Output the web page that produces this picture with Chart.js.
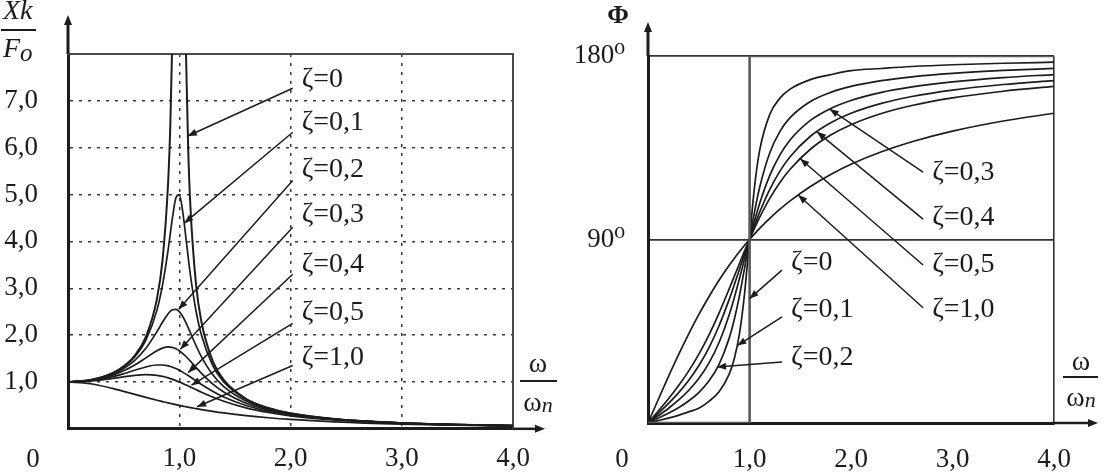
<!DOCTYPE html>
<html><head><meta charset="utf-8">
<script src="https://cdn.jsdelivr.net/npm/chart.js@4.4.1/dist/chart.umd.min.js"></script>
<style>
html,body{margin:0;padding:0;background:#fff;}
#wrap{position:relative;width:1105px;height:475px;overflow:hidden;background:#fff;}
#c1{position:absolute;left:0;top:0;}
#c2{position:absolute;left:560px;top:0;}
</style></head><body>
<div id="wrap"><canvas id="c1" width="560" height="475"></canvas><canvas id="c2" width="545" height="475"></canvas></div>
<script>
// ---------- DATA ----------
// Left panel: amplitude ratio Xk/Fo versus frequency ratio w/wn
const ampRatio = [0,0.2,0.4,0.5,0.6,0.7,0.8,0.85,0.9,0.92,0.94,0.97,1.0,1.03,1.06,1.08,1.1,1.15,1.2,1.3,1.4,1.6,1.8,2.0,2.4,3.0,3.5,4.0];
const amp_z0  = [1,1.042,1.190,1.333,1.563,1.961,2.778,3.604,5.263,6.510,8.591,null,null,null,8.091,6.010,4.762,3.101,2.273,1.449,1.042,0.641,0.446,0.333,0.210,0.125,0.089,0.067];
const amp_z01 = [1,1.041,1.185,1.322,1.536,1.891,2.538,3.073,3.821,4.172,4.523,4.931,5.000,4.655,4.075,3.668,3.288,2.525,1.995,1.356,1.000,0.628,0.441,0.330,0.209,0.125,0.089,0.067];
const amp_z02 = [1,1.038,1.169,1.288,1.463,1.719,2.076,2.279,2.457,2.508,2.541,2.548,2.500,2.401,2.264,2.160,2.051,1.780,1.536,1.157,0.900,0.593,0.425,0.322,0.206,0.124,0.088,0.066];
const amp_z03 = [1,1.034,1.145,1.238,1.362,1.514,1.667,1.722,1.747,1.745,1.736,1.709,1.667,1.610,1.543,1.495,1.444,1.313,1.185,0.960,0.784,0.546,0.402,0.309,0.201,0.122,0.087,0.066];
const amp_z04 = [1,1.027,1.112,1.176,1.250,1.320,1.362,1.362,1.343,1.330,1.314,1.285,1.250,1.210,1.167,1.137,1.105,1.026,0.947,0.801,0.678,0.496,0.376,0.294,0.195,0.120,0.086,0.065];
const amp_z05 = [1,1.020,1.075,1.109,1.140,1.155,1.140,1.118,1.087,1.072,1.056,1.029,1.000,0.969,0.937,0.915,0.893,0.837,0.782,0.679,0.589,0.448,0.348,0.277,0.188,0.117,0.085,0.064];
const amp_z10 = [1,0.962,0.862,0.800,0.735,0.671,0.610,0.581,0.552,0.542,0.531,0.515,0.500,0.485,0.471,0.462,0.452,0.431,0.410,0.372,0.338,0.281,0.236,0.200,0.148,0.100,0.076,0.059];

// Right panel: phase angle (degrees) versus frequency ratio
const phaseRatio = [0,0.1,0.2,0.3,0.4,0.5,0.6,0.7,0.8,0.85,0.9,0.95,1.0,1.05,1.1,1.2,1.3,1.4,1.6,1.8,2.0,2.3,2.6,3.0,3.5,4.0];
const ph_z01 = [0,1.16,2.39,3.77,5.44,7.19,10.62,15.35,23.96,31.49,43.45,62.84,90,116.02,133.67,151.39,159.35,163.74,168.41,170.87,172.81,173.88,174.84,175.71,176.44,176.95];
const ph_z02 = [0,2.31,4.76,7.51,10.78,14.93,20.56,28.77,41.63,50.78,62.09,75.61,90,103.71,115.52,132.51,143.00,149.74,157.69,162.18,165.07,167.90,169.77,171.47,172.91,173.91];
const ph_z03 = [0,3.47,7.13,11.19,15.95,21.80,29.36,39.47,53.13,61.45,70.62,80.29,90,99.24,107.65,121.43,131.50,138.81,148.39,154.26,158.20,162.17,164.85,167.32,169.43,170.91];
const ph_z04 = [0,4.62,9.46,14.77,20.85,28.07,36.87,47.68,60.64,67.80,75.22,82.69,90,96.96,103.42,114.62,123.56,130.60,140.63,147.26,151.93,156.78,160.14,163.30,166.02,167.96];
const ph_z05 = [0,5.77,11.77,18.25,25.46,33.69,43.15,53.92,65.77,71.92,78.08,84.14,90,95.58,100.81,110.14,117.96,124.44,134.27,141.21,146.31,151.80,155.71,159.44,162.72,165.07];
const ph_z10 = [0,11.42,22.62,33.40,43.60,53.13,61.93,69.98,77.32,80.73,83.97,87.06,90,92.79,95.45,100.39,104.86,108.92,115.99,121.89,126.87,133.00,137.92,143.13,148.11,151.93];
const ph_z0_x = [0,1,1,4];
const ph_z0_y = [0,0,180,180];

// Axis ranges / ticks
const ampXRange = [0,4];
const ampYRange = [0,8];
const phXRange = [0,4];
const phYRange = [0,180];
const ampYTickStep = 1;
const phYTickStep = 90;

// Annotation labels (data coordinates)
const ampNoteText = ['ζ=0','ζ=0,1','ζ=0,2','ζ=0,3','ζ=0,4','ζ=0,5','ζ=1,0'];
const ampNoteX = [2.1,2.1,2.1,2.1,2.1,2.1,2.1];
const ampNoteY = [7.45,6.53,5.53,4.57,3.5,2.47,1.51];
const ampLeadStartX = [2.02,2.02,2.02,2.02,2.02,2.02,2.02];
const ampLeadStartY = [7.27,6.33,5.3,4.3,3.3,2.25,1.35];
const ampLeadEndX = [1.077,1.045,0.995,1.01,1.08,1.11,1.16];
const ampLeadEndY = [6.25,4.39,2.55,1.70,1.20,0.93,0.47];

const phNoteText = ['ζ=0','ζ=0,1','ζ=0,2','ζ=0,3','ζ=0,4','ζ=0,5','ζ=1,0'];
const phNoteX = [1.41,1.41,1.41,2.80,2.80,2.80,2.80];
const phNoteY = [78.5,55.4,31.9,122.6,100.5,77.5,55.4];
const phLeadStartX = [1.32,1.32,1.32,2.71,2.71,2.71,2.71];
const phLeadStartY = [75.0,52.0,29.9,123.0,100.0,77.5,56.5];
const phLeadEndX = [1.0,0.88,0.68,1.79,1.665,1.5,1.48];
const phLeadEndY = [61,38,27.5,154.0,142.8,129.6,111.8];

// ---------- STYLE ----------
const INK = '#1c1c1c';
const SERIF = '"Liberation Serif","DejaVu Serif","Times New Roman",serif';
const TICKFONT = {family: SERIF, size: 27};
const fmt = v => v.toFixed(1).replace('.', ',');
const CLEAR = 'rgba(0,0,0,0)';

function lineDs(xs, ys, color, width, mono) {
  return {
    data: xs.map((x, i) => ({x: x, y: ys[i]})),
    borderColor: color, borderWidth: width, pointRadius: 0, fill: false,
    cubicInterpolationMode: mono ? 'monotone' : 'default', tension: 0,
    spanGaps: false, xAxisID: 'x', yAxisID: 'y'
  };
}

function arrowHead(ctx, x0, y0, x1, y1, len, hw) {
  const a = Math.atan2(y1 - y0, x1 - x0);
  const c = Math.cos(a), s = Math.sin(a);
  ctx.beginPath();
  ctx.moveTo(x1, y1);
  ctx.lineTo(x1 - len * c + hw * s, y1 - len * s - hw * c);
  ctx.lineTo(x1 - len * c - hw * s, y1 - len * s + hw * c);
  ctx.closePath();
  ctx.fill();
}

function drawNotes(chart, texts, tx, ty, sx, sy, ex, ey) {
  const ctx = chart.ctx, X = chart.scales.x, Y = chart.scales.y;
  ctx.save();
  ctx.strokeStyle = INK; ctx.fillStyle = INK; ctx.lineWidth = 1.5;
  ctx.font = '28px ' + SERIF;
  ctx.textAlign = 'left'; ctx.textBaseline = 'middle';
  texts.forEach((t, i) => {
    const x0 = X.getPixelForValue(sx[i]), y0 = Y.getPixelForValue(sy[i]);
    const x1 = X.getPixelForValue(ex[i]), y1 = Y.getPixelForValue(ey[i]);
    ctx.beginPath(); ctx.moveTo(x0, y0); ctx.lineTo(x1, y1); ctx.stroke();
    arrowHead(ctx, x0, y0, x1, y1, 9, 3.5);
    ctx.fillText(t, X.getPixelForValue(tx[i]), Y.getPixelForValue(ty[i]));
  });
  ctx.restore();
}

function drawAxisArrows(chart, yTopEnd, xRightExt) {
  const ctx = chart.ctx, a = chart.chartArea;
  ctx.save();
  ctx.strokeStyle = INK; ctx.fillStyle = INK;
  ctx.lineWidth = 3;
  ctx.beginPath(); ctx.moveTo(a.left, a.top); ctx.lineTo(a.left, yTopEnd + 6); ctx.stroke();
  ctx.beginPath(); ctx.moveTo(a.left - 4, yTopEnd + 8); ctx.lineTo(a.left + 4, yTopEnd + 8); ctx.lineTo(a.left, yTopEnd - 2); ctx.closePath(); ctx.fill();
  ctx.lineWidth = 2.5;
  ctx.beginPath(); ctx.moveTo(a.right, a.bottom); ctx.lineTo(a.right + xRightExt - 6, a.bottom); ctx.stroke();
  ctx.beginPath(); ctx.moveTo(a.right + xRightExt - 9, a.bottom - 4); ctx.lineTo(a.right + xRightExt - 9, a.bottom + 4); ctx.lineTo(a.right + xRightExt + 1, a.bottom); ctx.closePath(); ctx.fill();
  ctx.restore();
}

function drawOmega(ctx, cx, topBase, lineY, x0, x1, botBase) {
  ctx.save();
  ctx.fillStyle = INK; ctx.strokeStyle = INK;
  ctx.font = '28px ' + SERIF; ctx.textBaseline = 'alphabetic';
  ctx.textAlign = 'center';
  ctx.fillText('ω', cx, topBase);
  ctx.lineWidth = 1.8;
  ctx.beginPath(); ctx.moveTo(x0, lineY); ctx.lineTo(x1, lineY); ctx.stroke();
  ctx.textAlign = 'left';
  const w = ctx.measureText('ω').width;
  ctx.font = 'italic 22px ' + SERIF;
  const wn = ctx.measureText('n').width;
  ctx.font = '28px ' + SERIF;
  const start = cx - (w + wn) / 2;
  ctx.fillText('ω', start, botBase);
  ctx.font = 'italic 22px ' + SERIF;
  ctx.fillText('n', start + w, botBase + 1);
  ctx.restore();
}

const leftDeco = {
  id: 'leftDeco',
  afterDraw(chart) {
    const ctx = chart.ctx, a = chart.chartArea;
    drawAxisArrows(chart, 17, 31);
    ctx.save();
    ctx.fillStyle = INK; ctx.strokeStyle = INK;
    ctx.font = '27px ' + SERIF; ctx.textAlign = 'center'; ctx.textBaseline = 'middle';
    ctx.fillText('0', a.left - 35, a.bottom + 31);
    // Xk / Fo
    ctx.textAlign = 'left'; ctx.textBaseline = 'alphabetic';
    ctx.font = 'italic 28px ' + SERIF;
    ctx.fillText('Xk', 3, 19);
    ctx.lineWidth = 2;
    ctx.beginPath(); ctx.moveTo(1, 30); ctx.lineTo(36, 30); ctx.stroke();
    ctx.fillText('F', 3, 57);
    ctx.font = 'italic 25px ' + SERIF;
    ctx.fillText('o', 20, 61);
    ctx.restore();
    drawOmega(ctx, 538, 372, 381, 520, 557, 411);
    drawNotes(chart, ampNoteText, ampNoteX, ampNoteY, ampLeadStartX, ampLeadStartY, ampLeadEndX, ampLeadEndY);
  }
};

const rightDeco = {
  id: 'rightDeco',
  afterDraw(chart) {
    const ctx = chart.ctx, a = chart.chartArea;
    drawAxisArrows(chart, 24, 43);
    ctx.save();
    ctx.fillStyle = INK;
    ctx.font = '27px ' + SERIF; ctx.textAlign = 'center'; ctx.textBaseline = 'middle';
    ctx.fillText('0', a.left - 26, a.bottom + 37);
    ctx.font = 'bold 26px ' + SERIF; ctx.textBaseline = 'alphabetic';
    ctx.fillText('Φ', 58, 23);
    ctx.restore();
    drawOmega(ctx, 521, 370, 377, 503, 538, 406);
    drawNotes(chart, phNoteText, phNoteX, phNoteY, phLeadStartX, phLeadStartY, phLeadEndX, phLeadEndY);
  }
};

function edgeAxis(pos, range) {
  return {
    type: 'linear', position: pos, min: range[0], max: range[1],
    ticks: {display: false}, grid: {display: false, drawTicks: false},
    border: {display: true, color: '#4a4a4a', width: 2},
    afterFit: s => { if (pos === 'top') s.height = 0; else s.width = 0; }
  };
}

const common = {
  responsive: false, animation: false, events: [], devicePixelRatio: 1,
  plugins: {legend: {display: false}, tooltip: {enabled: false}}
};

// ---------- LEFT CHART ----------
new Chart(document.getElementById('c1'), {
  type: 'line',
  data: {
    datasets: [
      lineDs(ampRatio, amp_z0, INK, 2, true),
      lineDs(ampRatio, amp_z01, INK, 1.7, true),
      lineDs(ampRatio, amp_z02, INK, 1.7, true),
      lineDs(ampRatio, amp_z03, INK, 1.7, true),
      lineDs(ampRatio, amp_z04, INK, 1.7, true),
      lineDs(ampRatio, amp_z05, INK, 1.7, true),
      lineDs(ampRatio, amp_z10, INK, 1.7, true)
    ]
  },
  options: Object.assign({}, common, {
    layout: {padding: {top: 54, right: 47, left: 0, bottom: 0}},
    scales: {
      x: {
        type: 'linear', position: 'bottom', min: ampXRange[0], max: ampXRange[1],
        ticks: {stepSize: 1, autoSkip: false, maxRotation: 0, padding: 14, color: INK, font: TICKFONT,
          callback: v => v === 0 ? '' : fmt(v)},
        grid: {drawTicks: false, lineWidth: 1.5,
          color: c => (c.tick && c.tick.value > 0 && c.tick.value < 4) ? '#3a3a3a' : CLEAR},
        border: {display: true, color: INK, width: 3, dash: [3, 6]},
        afterFit: s => { s.height = 46; }
      },
      y: {
        type: 'linear', position: 'left', min: ampYRange[0], max: ampYRange[1],
        ticks: {stepSize: ampYTickStep, autoSkip: false, padding: 30, color: INK, font: TICKFONT,
          callback: v => (v > 0 && v < 8) ? fmt(v) : ''},
        grid: {drawTicks: false, lineWidth: 1.5,
          color: c => (c.tick && c.tick.value > 0 && c.tick.value < 8) ? '#3a3a3a' : CLEAR},
        border: {display: true, color: INK, width: 3, dash: [3, 6]},
        afterFit: s => { s.width = 68; }
      },
      xTop: edgeAxis('top', ampXRange),
      yRight: edgeAxis('right', ampYRange)
    }
  }),
  plugins: [leftDeco]
});

// ---------- RIGHT CHART ----------
new Chart(document.getElementById('c2'), {
  type: 'line',
  data: {
    datasets: [
      lineDs(ph_z0_x, ph_z0_y, '#5c5c5c', 2.4, false),
      lineDs(phaseRatio, ph_z01, INK, 1.7, true),
      lineDs(phaseRatio, ph_z02, INK, 1.7, true),
      lineDs(phaseRatio, ph_z03, INK, 1.7, true),
      lineDs(phaseRatio, ph_z04, INK, 1.7, true),
      lineDs(phaseRatio, ph_z05, INK, 1.7, true),
      lineDs(phaseRatio, ph_z10, INK, 1.7, true)
    ]
  },
  options: Object.assign({}, common, {
    layout: {padding: {top: 56, right: 51, left: 0, bottom: 0}},
    scales: {
      x: {
        type: 'linear', position: 'bottom', min: phXRange[0], max: phXRange[1],
        ticks: {stepSize: 1, autoSkip: false, maxRotation: 0, padding: 21, color: INK, font: TICKFONT,
          callback: v => v === 0 ? '' : fmt(v)},
        grid: {drawTicks: false, lineWidth: 1.6,
          color: c => (c.tick && (c.tick.value === 1 || c.tick.value === 4)) ? '#333' : CLEAR},
        border: {display: true, color: INK, width: 3},
        afterFit: s => { s.height = 52; }
      },
      y: {
        type: 'linear', position: 'left', min: phYRange[0], max: phYRange[1],
        ticks: {stepSize: phYTickStep, autoSkip: false, padding: 23, color: INK, font: TICKFONT,
          callback: v => v === 0 ? '' : (v + '\u2070')},
        grid: {drawTicks: false, lineWidth: 1.8,
          color: c => (c.tick && (c.tick.value === 90 || c.tick.value === 180)) ? '#333' : CLEAR},
        border: {display: true, color: INK, width: 3},
        afterFit: s => { s.width = 88; }
      }
    }
  }),
  plugins: [rightDeco]
});
</script>
</body></html>
